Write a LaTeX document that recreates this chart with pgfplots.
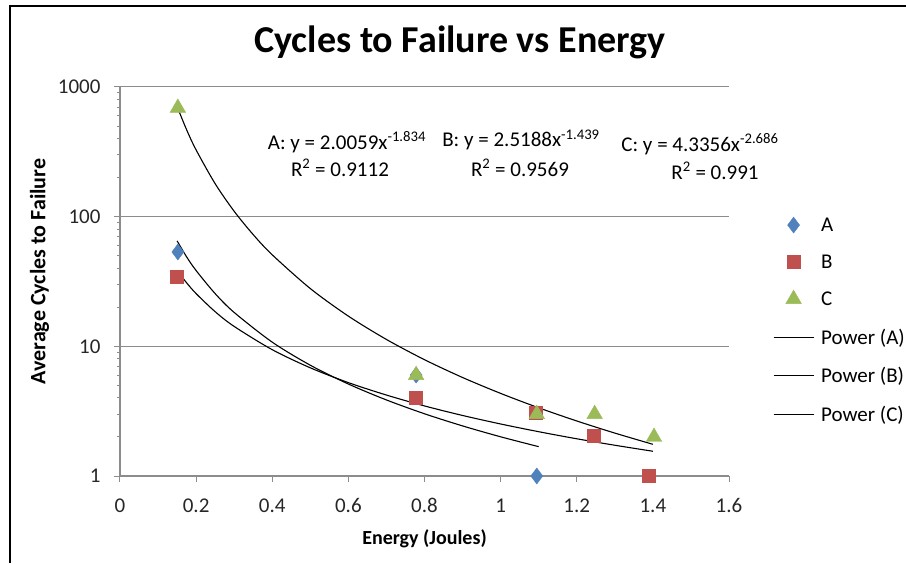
\documentclass[border=0pt]{standalone}
\usepackage{pgfplots}
\pgfplotsset{compat=1.18}
\usepackage{fontspec}
\setmainfont{Carlito}
\definecolor{cA}{HTML}{4F81BD}
\definecolor{cB}{HTML}{C0504D}
\definecolor{cC}{HTML}{9BBB59}
\definecolor{gridc}{HTML}{8C8C8C}
\begin{document}
\begin{tikzpicture}[x=1pt,y=1pt]
\useasboundingbox (-120,-87) rectangle (786,476);
\draw[line width=1.2pt,black] (-110,-87) -- (-110,470) -- (786,470);
\begin{axis}[
  at={(0pt,0pt)}, anchor=south west,
  scale only axis, width=609pt, height=389pt,
  xmin=0, xmax=1.6, ymode=log, ymin=1, ymax=1000,
  axis x line*=bottom, axis y line*=left,
  axis line style={gridc, line width=1.1pt},
  xtick={0,0.2,0.4,0.6,0.8,1,1.2,1.4,1.6},
  xticklabels={0,0.2,0.4,0.6,0.8,1,1.2,1.4,1.6},
  ytick={1,10,100,1000}, yticklabels={1,10,100,1000},
  minor ytick={},
  tick align=outside, major tick length=6pt,
  tick style={gridc, line width=1pt},
  ymajorgrids, major grid style={gridc, line width=1pt},
  ticklabel style={font=\fontsize{21}{24}\selectfont, text=black!85},
  xticklabel style={yshift=-13pt},
  yticklabel style={xshift=-10pt},
  xlabel={\textbf{Energy (Joules)}},
  ylabel={\textbf{Average Cycles to Failure}},
  label style={font=\fontsize{20}{24}\selectfont},
  xlabel style={yshift=-10pt},
  ylabel style={yshift=2pt, xshift=10pt, font=\fontsize{22}{24}\selectfont},
  clip=false,
  legend style={at={(1.072,0.67)}, anchor=north west, draw=none, fill=none,
    font=\fontsize{21}{24}\selectfont, row sep=18pt,
    /tikz/every odd column/.append style={column sep=5pt},
    inner sep=0pt},
  legend cell align=left,
  legend image code/.code={\draw[mark repeat=2,mark phase=2,#1] plot coordinates {(0pt,0pt)(20pt,0pt)(40pt,0pt)};},
]
\addplot[only marks, mark=diamond*, mark size=8pt, color=cA] coordinates {(0.152,53.4) (0.778,6.0) (1.095,1)};
\addlegendentry{A}
\addplot[only marks, mark=square*, mark size=6.5pt, color=cB] coordinates {(0.150,34.2) (0.778,4.0) (1.093,3.06) (1.245,2.03) (1.39,1)};
\addlegendentry{B}
\addplot[only marks, mark=triangle*, mark size=9pt, color=cC] coordinates {(0.152,690) (0.778,6.0) (1.095,3.0) (1.247,3.0) (1.403,2.0)};
\addlegendentry{C}
\addplot[smooth, black, line width=1.1pt, no marks] coordinates {(0.15,65.07) (0.175,49.0) (0.2,38.4) (0.25,25.5) (0.3,18.25) (0.4,10.77) (0.5,7.15) (0.6,5.12) (0.7,3.86) (0.8,3.02) (0.9,2.434) (1.0,2.006) (1.1,1.684)};
\addlegendentry{Power (A)}
\addplot[smooth, black, line width=1.1pt, no marks] coordinates {(0.15,38.6) (0.175,30.9) (0.2,25.5) (0.25,18.5) (0.3,14.24) (0.4,9.42) (0.5,6.83) (0.6,5.25) (0.7,4.21) (0.8,3.47) (0.9,2.93) (1.0,2.519) (1.1,2.196) (1.2,1.937) (1.3,1.727) (1.4,1.552)};
\addlegendentry{Power (B)}
\addplot[smooth, black, line width=1.1pt, no marks] coordinates {(0.15,708) (0.175,468) (0.2,327) (0.25,179.6) (0.3,110.0) (0.35,72.7) (0.4,50.8) (0.5,27.9) (0.6,17.10) (0.7,11.30) (0.8,7.89) (0.9,5.75) (1.0,4.336) (1.1,3.357) (1.2,2.657) (1.3,2.143) (1.4,1.756)};
\addlegendentry{Power (C)}
\end{axis}
\node[font=\fontsize{38}{44}\selectfont\bfseries] at (340,434) {Cycles to Failure vs Energy};
\begin{scope}[every node/.style={font=\fontsize{21}{24}\selectfont}]
\node at (227,334) {A: y = 2.0059x\textsuperscript{-1.834}};
\node at (220,308) {R\textsuperscript{2} = 0.9112};
\node at (401,336) {B: y = 2.5188x\textsuperscript{-1.439}};
\node at (400,308) {R\textsuperscript{2} = 0.9569};
\node at (580,332) {C: y = 4.3356x\textsuperscript{-2.686}};
\node at (595,305) {R\textsuperscript{2} = 0.991};
\end{scope}
\end{tikzpicture}
\end{document}
